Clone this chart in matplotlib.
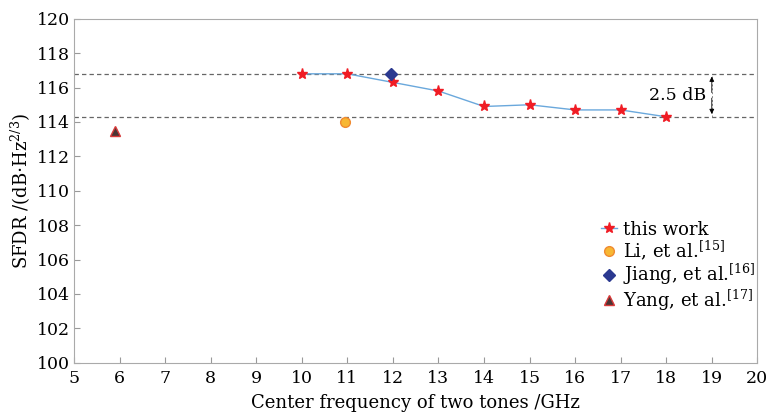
import matplotlib.pyplot as plt

# this work
freq = [10, 11, 12, 13, 14, 15, 16, 17, 18]
sfdr = [116.8, 116.8, 116.3, 115.8, 114.9, 115.0, 114.7, 114.7, 114.3]

# other reports
li_x, li_y = [10.95], [114.0]
jiang_x, jiang_y = [11.95], [116.8]
yang_x, yang_y = [5.9], [113.5]

upper_level = 116.8
lower_level = 114.3
xticks = list(range(5, 21))
yticks = list(range(100, 121, 2))

plt.rcParams['font.family'] = ['DejaVu Serif']
plt.rcParams['mathtext.fontset'] = 'dejavuserif'

fig = plt.figure(figsize=(7.72, 4.17), dpi=100)
ax = fig.add_axes([0.096, 0.13, 0.885, 0.825])

# reference levels
ax.axhline(upper_level, color='#666666', ls=(0, (3.5, 2.5)), lw=0.9)
ax.axhline(lower_level, color='#666666', ls=(0, (3.5, 2.5)), lw=0.9)

ax.plot(freq, sfdr, color='#6aa8dc', lw=1.0, marker='*', ms=8,
        mfc='#f01c24', mec='#f01c24', label='this work', zorder=3)
ax.plot(li_x, li_y, 'o', ms=7, mfc='#f7b733', mec='#f08a30', mew=1.0,
        label='Li, et al.$^{[15]}$', zorder=3)
ax.plot(jiang_x, jiang_y, 'D', ms=6, mfc='#2b3990', mec='#2b3990',
        label='Jiang, et al.$^{[16]}$', zorder=3)
ax.plot(yang_x, yang_y, '^', ms=7, mfc='#4a3535', mec='#d83a3a', mew=1.0,
        label='Yang, et al.$^{[17]}$', zorder=3)

# 2.5 dB span marker
ax.plot([19, 19], [lower_level, upper_level], color='#888888', ls=(0, (2, 2)), lw=0.7)
ax.annotate('', xy=(19, upper_level), xytext=(19, lower_level + 1.25),
            arrowprops=dict(arrowstyle='-|>', color='black', lw=0.6, mutation_scale=7))
ax.annotate('', xy=(19, lower_level), xytext=(19, lower_level + 1.25),
            arrowprops=dict(arrowstyle='-|>', color='black', lw=0.6, mutation_scale=7))
ax.text(18.88, (upper_level + lower_level) / 2, '2.5 dB', ha='right', va='center', fontsize=12.5)

ax.set_xlim(5, 20)
ax.set_ylim(100, 120)
ax.set_xticks(xticks)
ax.set_yticks(yticks)
ax.tick_params(direction='in', length=4, color='#999999', labelsize=12.5)
ax.tick_params(axis='x', pad=5)
ax.tick_params(axis='y', pad=3)
for s in ax.spines.values():
    s.set_color('#aaaaaa')

ax.set_xlabel('Center frequency of two tones /GHz', fontsize=13, labelpad=5)
ax.set_ylabel('SFDR /(dB$\\cdot$Hz$^{2/3}$)', fontsize=13, labelpad=3)

ax.legend(loc='lower right', bbox_to_anchor=(1.008, 0.125), frameon=False, fontsize=13,
          handlelength=0.9, handletextpad=0.35, labelspacing=0.0, borderpad=0.2,
          borderaxespad=0.2)

fig.savefig('out.png', dpi=100)
